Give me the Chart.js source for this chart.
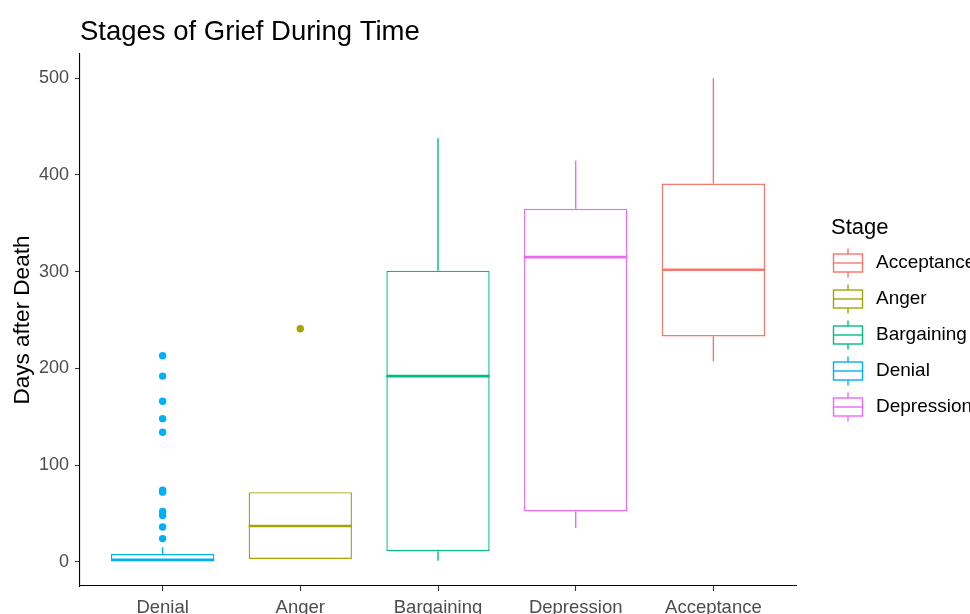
<!DOCTYPE html>
<html>
<head>
<meta charset="utf-8">
<script src="https://cdn.jsdelivr.net/npm/chart.js@4/dist/chart.umd.min.js"></script>
<style>
  html, body { margin: 0; padding: 0; background: #ffffff; }
  #wrap { width: 970px; height: 614px; position: relative; }
</style>
</head>
<body>
<div id="wrap"><canvas id="c" width="970" height="614"></canvas></div>
<script>
// ---- data ----
const stages = ['Denial', 'Anger', 'Bargaining', 'Depression', 'Acceptance'];
const stageColors = ['#00B0F6', '#A3A500', '#00BF7D', '#E76BF3', '#F8766D'];
const lowerWhisker = [0, 3, 1, 35, 207];
const q1 = [0, 3, 11, 52, 233];
const median = [2, 37, 192, 315, 302];
const q3 = [8, 72, 301, 365, 391];
const upperWhisker = [15, 72, 438, 415, 500];
const outliers = [
  [213, 192, 166, 148, 134, 74, 72, 52, 48, 36, 24],
  [241],
  [],
  [],
  []
];
const legendOrder = ['Acceptance', 'Anger', 'Bargaining', 'Denial', 'Depression'];
const yTicks = [0, 100, 200, 300, 400, 500];

// ---- styles ----
const FONT = "'Liberation Sans', Arial, sans-serif";
const BOX_WIDTH = 0.75;           // ggplot default box width (category units)
const LINE_W = 1.4;
const MEDIAN_W = 2.6;

const datasets = [];

// boxes (floating bars from Q1 to Q3)
datasets.push({
  type: 'bar',
  label: 'box',
  data: stages.map((s, i) => ({ x: i + 1, y: [q1[i], q3[i]] })),
  backgroundColor: '#ffffff',
  borderColor: stageColors,
  borderWidth: LINE_W,
  borderSkipped: false,
  barPercentage: BOX_WIDTH,
  categoryPercentage: 1,
  order: 3
});

// whiskers
stages.forEach((s, i) => {
  datasets.push({
    type: 'line',
    label: 'whisker ' + s,
    data: [
      { x: i + 1, y: q3[i] }, { x: i + 1, y: upperWhisker[i] },
      { x: i + 1, y: null },
      { x: i + 1, y: lowerWhisker[i] }, { x: i + 1, y: q1[i] }
    ],
    borderColor: stageColors[i],
    borderWidth: LINE_W,
    pointRadius: 0,
    spanGaps: false,
    fill: false,
    order: 2
  });
});

// medians
stages.forEach((s, i) => {
  datasets.push({
    type: 'line',
    label: 'median ' + s,
    data: [
      { x: i + 1 - BOX_WIDTH / 2, y: median[i] },
      { x: i + 1 + BOX_WIDTH / 2, y: median[i] }
    ],
    borderColor: stageColors[i],
    borderWidth: MEDIAN_W,
    borderCapStyle: 'butt',
    pointRadius: 0,
    fill: false,
    order: 1
  });
});

// outliers
stages.forEach((s, i) => {
  datasets.push({
    type: 'scatter',
    label: 'outliers ' + s,
    data: outliers[i].map(v => ({ x: i + 1, y: v })),
    backgroundColor: stageColors[i],
    borderColor: stageColors[i],
    borderWidth: 0,
    pointRadius: 3.7,
    pointHoverRadius: 3.7,
    order: 0
  });
});

// custom ggplot-like legend
const boxLegend = {
  id: 'boxLegend',
  afterDraw(chart) {
    const ctx = chart.ctx;
    const area = chart.chartArea;
    const cy0 = (area.top + area.bottom) / 2;
    const left = area.right + 35;
    ctx.save();
    ctx.fillStyle = '#000000';
    ctx.textAlign = 'left';
    ctx.textBaseline = 'middle';
    ctx.font = '22px ' + FONT;
    ctx.fillText('Stage', left, cy0 - 92);
    legendOrder.forEach((name, k) => {
      const idx = stages.indexOf(name);
      const col = stageColors[idx];
      const cy = cy0 - 57 + 36 * k;
      const gx = left + 17;
      ctx.strokeStyle = col;
      ctx.lineWidth = LINE_W;
      ctx.beginPath();
      ctx.moveTo(gx, cy - 14.5); ctx.lineTo(gx, cy + 14.5);
      ctx.stroke();
      ctx.fillStyle = '#ffffff';
      ctx.fillRect(gx - 14.5, cy - 9, 29, 18);
      ctx.strokeRect(gx - 14.5, cy - 9, 29, 18);
      ctx.beginPath();
      ctx.moveTo(gx - 14.5, cy); ctx.lineTo(gx + 14.5, cy);
      ctx.stroke();
      ctx.fillStyle = '#000000';
      ctx.font = '19px ' + FONT;
      ctx.fillText(name, left + 45, cy);
    });
    ctx.restore();
  }
};

new Chart(document.getElementById('c'), {
  type: 'bar',
  data: { datasets },
  options: {
    responsive: false,
    animation: false,
    devicePixelRatio: 1,
    layout: { padding: { left: 0, right: 174, top: 0, bottom: 0 } },
    plugins: {
      legend: { display: false },
      tooltip: { enabled: false },
      title: {
        display: true,
        text: 'Stages of Grief During Time',
        align: 'start',
        fullSize: false,
        color: '#000000',
        font: { family: FONT, size: 27.5, weight: 'normal' },
        padding: { top: 16, bottom: 5 }
      }
    },
    scales: {
      x: {
        type: 'linear',
        min: 0.4,
        max: 5.6,
        offset: false,
        afterBuildTicks: (scale) => { scale.ticks = stages.map((s, i) => ({ value: i + 1 })); },
        afterFit: (scale) => { scale.height = 28; },
        ticks: {
          callback: (v) => stages[v - 1],
          color: '#4d4d4d',
          font: { family: FONT, size: 18.5 },
          padding: 6,
          maxRotation: 0,
          autoSkip: false
        },
        grid: {
          display: true,
          drawOnChartArea: false,
          drawTicks: true,
          tickLength: 5,
          tickColor: '#333333',
          tickWidth: 1.1,
          offset: false
        },
        border: { display: true, color: '#000000', width: 1.1 }
      },
      y: {
        type: 'linear',
        min: -25,
        max: 525,
        afterBuildTicks: (scale) => { scale.ticks = yTicks.map(v => ({ value: v })); },
        afterFit: (scale) => { scale.width = 80; },
        ticks: {
          color: '#4d4d4d',
          font: { family: FONT, size: 18 },
          padding: 6
        },
        grid: {
          display: true,
          drawOnChartArea: false,
          drawTicks: true,
          tickLength: 5,
          tickColor: '#333333',
          tickWidth: 1.1
        },
        border: { display: true, color: '#000000', width: 1.1 },
        title: {
          display: true,
          text: 'Days after Death',
          color: '#000000',
          font: { family: FONT, size: 22.5 },
          padding: { top: 9, bottom: 0 }
        }
      }
    }
  },
  plugins: [boxLegend]
});
</script>
</body>
</html>
